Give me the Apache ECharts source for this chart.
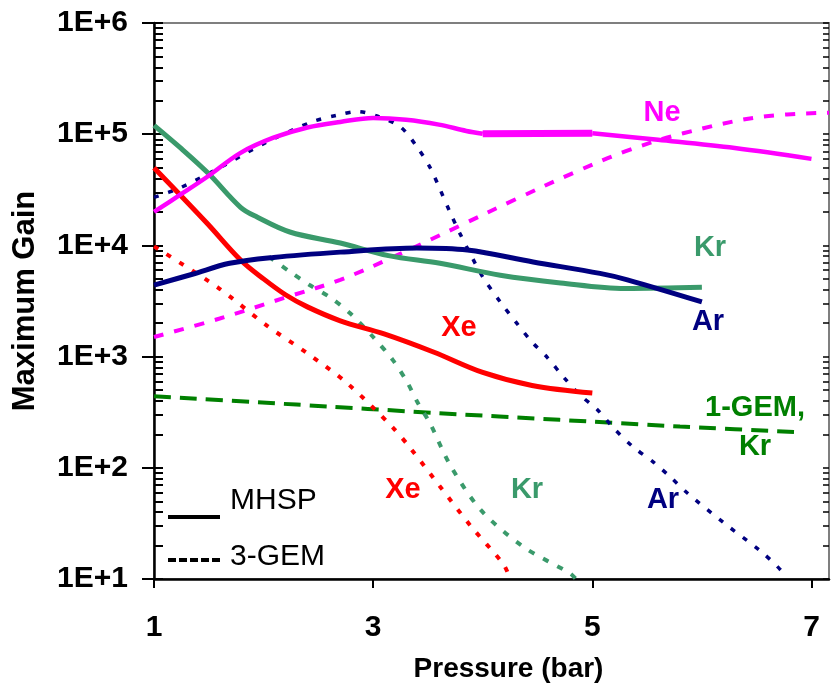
<!DOCTYPE html>
<html>
<head>
<meta charset="utf-8">
<script src="https://cdn.jsdelivr.net/npm/echarts@6/dist/echarts.min.js"></script>
<style>
  html, body { margin: 0; padding: 0; background: #fff; }
  #chart { width: 831px; height: 684px; }
</style>
</head>
<body>
<div id="chart"></div>
<script>
// Pressure axis ticks and gain decades
const xTicks = [1, 3, 5, 7];
const yDecades = [10, 100, 1000, 10000, 100000, 1000000];

// MHSP (solid) curves: [pressure (bar), maximum gain]
const neMHSP = [[1, 2.0e4], [1.25, 2.9e4], [1.48, 4.1e4], [1.79, 6.8e4], [2.09, 9.3e4], [2.4, 1.15e5], [2.7, 1.29e5], [3.0, 1.4e5], [3.3, 1.35e5], [3.6, 1.22e5], [3.85, 1.07e5], [4.0, 1.01e5]];
const neMHSPplateau = [[4.0, 1.01e5], [5.0, 1.02e5]];
const neMHSPhigh = [[5.0, 1.02e5], [5.6, 8.9e4], [6.3, 7.5e4], [7.0, 6.0e4]];
const krMHSP = [[1, 1.2e5], [1.25, 7.4e4], [1.5, 4.4e4], [1.79, 2.2e4], [1.94, 1.8e4], [2.24, 1.32e4], [2.7, 1.05e4], [3.14, 8.1e3], [3.61, 6.9e3], [4.16, 5.4e3], [4.71, 4.6e3], [5.3, 4.1e3], [6.0, 4.2e3]];
const xeMHSP = [[1, 5.0e4], [1.48, 1.6e4], [1.79, 7.4e3], [2.0, 5.0e3], [2.2, 3.6e3], [2.4, 2.8e3], [2.7, 2.1e3], [3.1, 1.6e3], [3.55, 1.1e3], [4.0, 7.2e2], [4.45, 5.5e2], [5.0, 4.7e2]];
const arMHSP = [[1, 4.4e3], [1.35, 5.5e3], [1.69, 6.9e3], [2.09, 7.8e3], [2.7, 8.7e3], [3.4, 9.5e3], [3.86, 9.1e3], [4.46, 7.1e3], [5.07, 5.6e3], [5.32, 4.9e3], [6.0, 3.1e3]];

// 3-GEM (dashed / dotted) curves
const ne3GEM = [[1, 1.5e3], [1.6, 2.2e3], [2.24, 3.5e3], [2.7, 4.9e3], [3.2, 8.0e3], [3.79, 1.5e4], [4.3, 2.6e4], [4.83, 4.5e4], [5.3, 7.0e4], [5.83, 1.02e5], [6.53, 1.43e5], [7.16, 1.56e5]];
const xe3GEM = [[1, 9.8e3], [1.58, 4.2e3], [2.03, 1.9e3], [2.4, 1.07e3], [2.76, 5.8e2], [3.18, 2.3e2], [3.34, 1.5e2], [3.61, 68], [3.89, 30], [4.19, 13.5], [4.25, 10]];
const kr3GEM = [[2.05, 7.9e3], [2.24, 5.8e3], [2.42, 4.4e3], [2.61, 3.4e3], [2.79, 2.45e3], [3.0, 1.5e3], [3.18, 9.3e2], [3.31, 5.9e2], [3.41, 3.8e2], [3.52, 2.5e2], [3.7, 1.07e2], [3.98, 42], [4.37, 19.5], [4.8, 11.2], [4.85, 10]];
const ar3GEM = [[1, 2.7e4], [1.24, 3.3e4], [1.6, 5.0e4], [2.01, 8.3e4], [2.44, 1.29e5], [2.67, 1.48e5], [2.86, 1.6e5], [3.04, 1.45e5], [3.25, 1.16e5], [3.4, 7.7e4], [3.52, 5.0e4], [3.61, 3.2e4], [3.7, 2.0e4], [3.79, 1.29e4], [3.9, 7.9e3], [4.0, 5.2e3], [4.16, 3.1e3], [4.31, 2.0e3], [4.45, 1.35e3], [4.59, 9.8e2], [4.74, 6.5e2], [4.89, 4.5e2], [5.05, 3.3e2], [5.19, 2.3e2], [5.37, 1.55e2], [5.56, 1.12e2], [5.71, 83], [5.87, 59], [6.2, 32], [6.53, 18], [6.72, 12], [6.76, 10]];

// Single GEM, krypton (long dashes)
const kr1GEM = [[1, 440], [2.3, 370], [3.6, 310], [4.7, 270], [5.8, 235], [6.85, 210]];

const C = {
  ne: '#FF00FF',
  kr: '#3A9A6B',
  xe: '#FF0000',
  ar: '#000080',
  gem1: '#008000'
};
const FONT = '"Liberation Sans", Arial, sans-serif';

// minor ticks 2..9 in every decade
const minorVals = [];
for (let d = 10; d < 1e6; d *= 10) {
  for (let k = 2; k <= 9; k++) minorVals.push(k * d);
}
const allVals = yDecades.concat(minorVals);

function line(name, data, color, width, dash, smooth) {
  return {
    name, type: 'line', data, xAxisIndex: 0, yAxisIndex: 0,
    showSymbol: false, symbol: 'none', smooth: smooth === undefined ? 0.35 : smooth,
    lineStyle: { color, width, type: dash || 'solid', cap: 'butt' },
    silent: true, animation: false, z: 3
  };
}

const chart = echarts.init(document.getElementById('chart'), null, { renderer: 'canvas' });

const labels = [
  ['Ne', 662, 113, C.ne],
  ['Kr', 710, 248, C.kr],
  ['Ar', 708, 322, C.ar],
  ['Xe', 459, 328, C.xe],
  ['1-GEM,', 755, 408, C.gem1],
  ['Kr', 755, 447, C.gem1],
  ['Xe', 403, 490, C.xe],
  ['Kr', 527, 490, C.kr],
  ['Ar', 663, 500, C.ar]
];

chart.setOption({
  animation: false,
  backgroundColor: '#ffffff',
  grid: {
    left: 154, right: 2, top: 23, bottom: 105,
    outerBoundsMode: 'none', containLabel: false,
    show: true, borderColor: '#7f7f7f', borderWidth: 2, backgroundColor: 'transparent'
  },
  xAxis: [{
    type: 'value', min: 1, max: 7.16,
    axisLine: { show: true, lineStyle: { color: '#000', width: 2.5 } },
    axisTick: { show: true, inside: false, length: 9, customValues: xTicks, lineStyle: { color: '#000', width: 2 } },
    axisLabel: { customValues: xTicks, margin: 34, color: '#000', fontSize: 30, fontWeight: 'bold', fontFamily: FONT },
    splitLine: { show: false },
    name: 'Pressure (bar)', nameLocation: 'middle', nameGap: 76,
    nameTextStyle: { color: '#000', fontSize: 28, fontWeight: 'bold', fontFamily: FONT, padding: [0, 0, 0, 34] }
  }],
  yAxis: [{
    type: 'log', logBase: 10, min: 10, max: 1e6,
    axisLine: { show: true, lineStyle: { color: '#000', width: 2.5 } },
    axisTick: { show: true, inside: false, length: 12, lineStyle: { color: '#000', width: 2 } },
    axisLabel: {
      margin: 26, color: '#000', fontSize: 30, fontWeight: 'bold', fontFamily: FONT,
      formatter: v => '1E+' + Math.round(Math.log10(v))
    },
    splitLine: { show: false },
    name: 'Maximum Gain', nameLocation: 'middle', nameGap: 113,
    nameTextStyle: { color: '#000', fontSize: 31, fontWeight: 'bold', fontFamily: FONT }
  }, {
    // inner minor ticks on the left edge
    type: 'log', logBase: 10, min: 10, max: 1e6, position: 'left',
    axisLine: { show: false },
    axisTick: { show: true, inside: true, length: 9, customValues: allVals, lineStyle: { color: '#000', width: 2 } },
    axisLabel: { show: false },
    splitLine: { show: false }
  }, {
    // mirrored ticks on the right edge
    type: 'log', logBase: 10, min: 10, max: 1e6, position: 'right',
    axisLine: { show: false },
    axisTick: { show: true, inside: true, length: 6, customValues: allVals, lineStyle: { color: '#000', width: 1.5 } },
    axisLabel: { show: false },
    splitLine: { show: false }
  }],
  series: [
    line('1-GEM Kr', kr1GEM, C.gem1, 4, [17, 9], 0.2),
    line('Ne 3-GEM', ne3GEM, C.ne, 4, [10, 11]),
    line('Ar 3-GEM', ar3GEM, C.ar, 3.5, [5, 10], 0.3),
    line('Kr 3-GEM', kr3GEM, C.kr, 4, [6, 10], 0.3),
    line('Xe 3-GEM', xe3GEM, C.xe, 4, [5, 10], 0.3),
    line('Kr MHSP', krMHSP, C.kr, 5),
    line('Xe MHSP', xeMHSP, C.xe, 5),
    line('Ar MHSP', arMHSP, C.ar, 5),
    line('Ne MHSP', neMHSP, C.ne, 4.5),
    line('Ne MHSP plateau', neMHSPplateau, C.ne, 7, 'solid', 0),
    line('Ne MHSP high', neMHSPhigh, C.ne, 4.5)
  ],
  graphic: [
    // key: solid = MHSP, dashed = 3-GEM
    { type: 'line', shape: { x1: 168, y1: 517, x2: 220, y2: 517 }, style: { stroke: '#000', lineWidth: 4 } },
    { type: 'text', x: 230, y: 501, style: { text: 'MHSP', fill: '#000', font: '30px ' + FONT, verticalAlign: 'middle' } },
    { type: 'line', shape: { x1: 168, y1: 560, x2: 220, y2: 560 }, style: { stroke: '#000', lineWidth: 4, lineDash: [8, 3] } },
    { type: 'text', x: 230, y: 557, style: { text: '3-GEM', fill: '#000', font: '30px ' + FONT, verticalAlign: 'middle' } }
  ].concat(labels.map(([t, x, y, c]) => ({
    type: 'text', x, y, z: 10,
    style: { text: t, fill: c, font: 'bold 29px ' + FONT, align: 'center', verticalAlign: 'middle' }
  })))
});
</script>
</body>
</html>
